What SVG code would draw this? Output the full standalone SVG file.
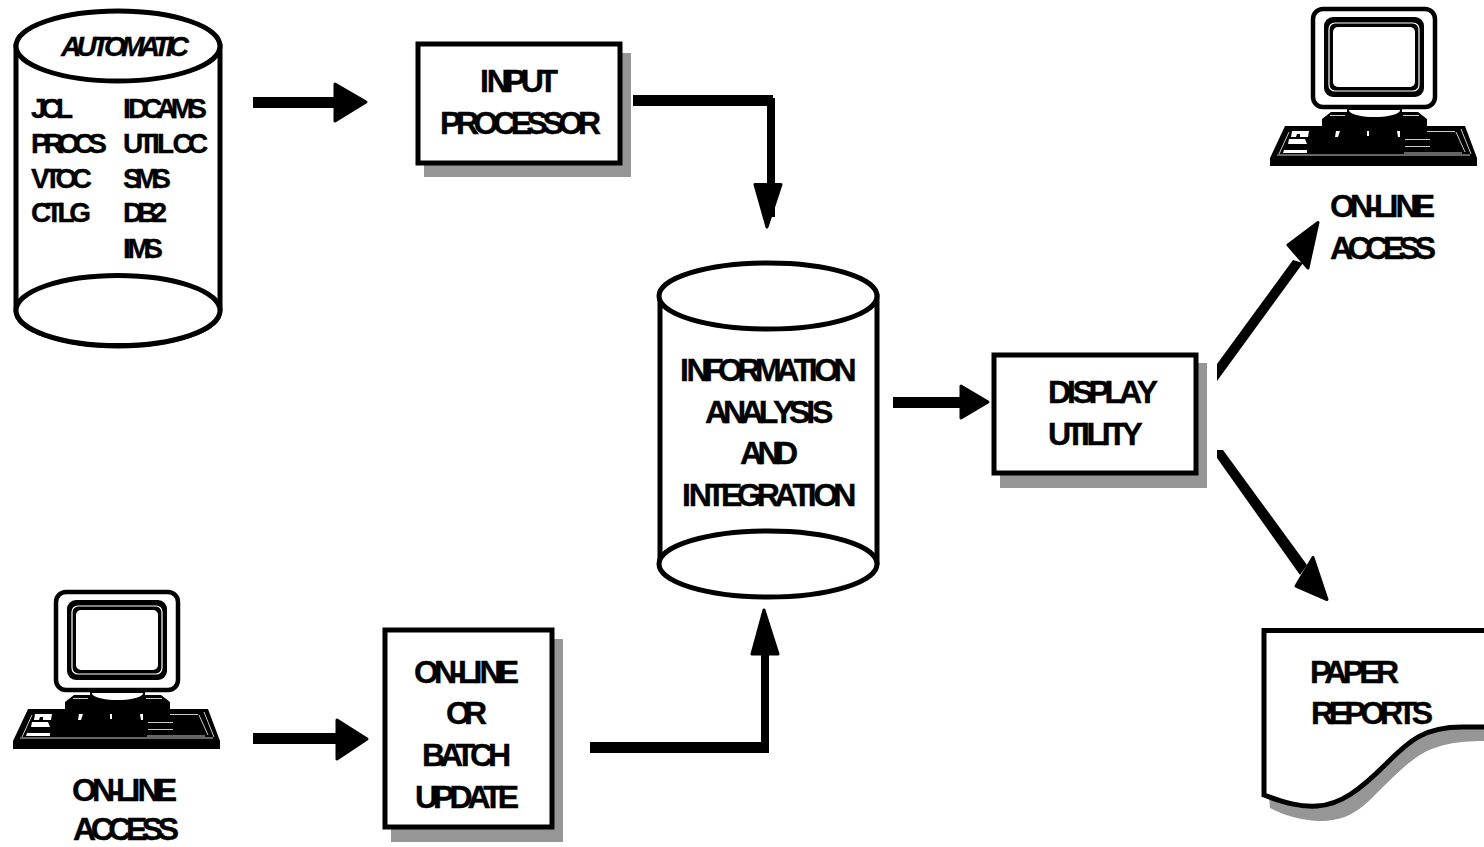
<svg xmlns="http://www.w3.org/2000/svg" width="1484" height="847" viewBox="0 0 1484 847">
<style>
text{font-family:"Liberation Sans",Arial,sans-serif;font-weight:bold;font-size:32px;fill:#000;stroke:#000;stroke-width:.35}
.s{font-size:28px}
.box{fill:#fff;stroke:#000;stroke-width:5}
.sh{fill:#969696;stroke:none}
.cyl{fill:#fff;stroke:#000;stroke-width:5}
.h{fill:#000;stroke:#000;stroke-width:3;stroke-linejoin:round}
.w{fill:none;stroke:#fff;stroke-width:.8}
</style>
<defs>
<g id="pc">
<path d="M1331 112H1347V106H1402V112H1418L1427 119V127H1322V119Z" fill="#000"/>
<rect x="1313" y="9" width="122" height="98" rx="10" fill="#fff" stroke="#000" stroke-width="4.5"/>
<rect x="1324" y="17" width="100" height="80" rx="9" fill="#000"/>
<rect x="1329" y="23" width="90" height="68" rx="6" fill="none" stroke="#fff" stroke-width="1.2"/>
<rect x="1333" y="27" width="82" height="60" rx="5" fill="#fff"/>
<path d="M1349 110H1400V111C1394 119 1355 119 1349 111Z" fill="#fff"/>
<path class="w" d="M1330 115.500H1345M1403 115.500H1419"/>
<path d="M1285 126H1465L1477 158V166H1270V158Z" fill="#000"/>
<path class="w" d="M1289 132L1279 154M1461 129L1471 154M1456 132L1465 152M1405 139.500H1430M1405 146.500H1430M1404 153H1462M1427 131.500H1455M1277 155H1470"/>
<path d="M1292 131H1309L1308 137H1300V134H1297L1296 137H1291ZM1289 139H1305L1307 144H1288ZM1284 150H1307V153H1283ZM1336 131H1340L1338 137H1335ZM1367 131H1369V136H1367ZM1397 131H1400V137H1398Z" fill="#fff"/>
</g>
</defs>
<g id="connectors">
<path fill="#000" d="M253 97H340V108H253Z"/><path class="h" d="M335 84L366 102L335 121Z"/>
<path fill="#000" d="M633 95H773V98H775V217H767V106H633Z"/><path class="h" d="M755 184.500H781L767 227Z"/>
<path fill="#000" d="M893 397H965V408H893Z"/><path class="h" d="M961 386L988 402L961 418Z"/>
<path fill="#000" d="M253 733H340V744H253Z"/><path class="h" d="M337 720L367 739L337 759Z"/>
<path fill="#000" d="M590 742H761V650H769V753H590Z"/><path class="h" d="M752 654H778L764 610Z"/>
<path fill="#000" d="M1217 364L1293 260L1303 263L1217 381Z"/><path class="h" d="M1288 245L1318 222.500L1308 268Z"/>
<path fill="#000" d="M1223 450L1307 565L1300 575L1217 458V450Z"/><path class="h" d="M1313 557.500L1296 586L1327 599.500Z"/>
</g>
<g id="automatic">
<path class="cyl" d="M16 46V310A102 36 0 0 0 220 310V46Z"/>
<ellipse class="cyl" cx="118" cy="46" rx="102" ry="35"/>
<ellipse class="cyl" cx="118" cy="310.500" rx="102" ry="35"/>
<text class="s" x="61" y="56" style="font-style:italic" textLength="128">AUTOMATIC</text>
<text class="s" x="31" y="118" textLength="42">JCL</text>
<text class="s" x="31" y="153" textLength="76">PROCS</text>
<text class="s" x="31" y="188" textLength="61">VTOC</text>
<text class="s" x="31" y="222" textLength="60">CTLG</text>
<text class="s" x="123 127.900 142.200 156.500 170.800 188.200" y="118">IDCAMS</text>
<text class="s" x="123 138.500 151.900 157 169.400 172.500 188" y="153">UTIL CC</text>
<text class="s" x="123" y="188" textLength="48">SMS</text>
<text class="s" x="123" y="222" textLength="44">DB2</text>
<text class="s" x="123 127.400 144.300" y="258">IMS</text>
</g>
<g id="input-processor">
<rect class="sh" x="424" y="53" width="207" height="124"/>
<rect class="box" x="418" y="44" width="202" height="119"/>
<text x="480 486.700 504.600 520.700 538.600" y="92">INPUT</text>
<text x="440" y="134" textLength="161">PROCESSOR</text>
</g>
<g id="information">
<path class="cyl" d="M660 296V564A109 33 0 0 0 877 564V296Z"/>
<ellipse class="cyl" cx="768" cy="296" rx="109" ry="33"/>
<ellipse class="cyl" cx="768" cy="564" rx="109" ry="33"/>
<text x="680 686.400 704 718 737.400 755 776.200 793.800 808.800 814.200 833.600" y="381">INFORMATION</text>
<text x="705 722.900 740.800 758.700 773 789.100 806.200 811.900" y="423">ANALYSIS</text>
<text x="740" y="464" textLength="58">AND</text>
<text x="682 688.700 706.600 720.900 737 756.700 774.600 792.500 807.800 813.500 833.200" y="506">INTEGRATION</text>
</g>
<g id="display-utility">
<rect class="sh" x="1000" y="363" width="207" height="125"/>
<rect class="box" x="994" y="355" width="202" height="118"/>
<text x="1048 1066.900 1072.500 1088.600 1104.600 1118.900 1136.700" y="403">DISPLAY</text>
<text x="1048 1065.800 1081 1086.600 1101.800 1107.400 1121.600" y="445">UTILITY</text>
</g>
<g id="online-update">
<rect class="sh" x="391" y="639" width="172" height="203"/>
<rect class="box" x="385" y="630" width="167" height="197"/>
<text x="414 434 452.200 458 473.600 479.600 497.800" y="683">ON-LINE</text>
<text x="446" y="724" textLength="41">OR</text>
<text x="422" y="766" textLength="89">BATCH</text>
<text x="415" y="808" textLength="104">UPDATE</text>
</g>
<g id="pc-top"><use href="#pc"/>
<text x="1330 1350 1368.200 1374 1389.600 1395.600 1413.800" y="217">ON-LINE</text>
<text x="1330" y="259" textLength="106">ACCESS</text>
</g>
<g id="pc-bottom"><use href="#pc" transform="translate(-1257 583)"/>
<text x="72 92 110.200 116 131.600 137.600 155.800" y="801">ON-LINE</text>
<text x="73" y="840" textLength="106">ACCESS</text>
</g>
<g id="paper-reports">
<path class="sh" d="M1269 797L1270 808C1285 816 1305 821 1320 821C1340 821 1355 815 1372 798C1395 775 1410 760 1425 752C1440 745 1455 741 1486 741V720H1440L1300 790Z"/>
<path fill="#fff" stroke="#000" stroke-width="5" d="M1486 630.500H1264V795C1285 803 1300 807 1317 806C1340 805 1360 790 1387 763C1410 740 1425 727 1462 727H1486"/>
<text x="1310" y="683" textLength="89">PAPER</text>
<text x="1311" y="724" textLength="122">REPORTS</text>
</g>
</svg>
